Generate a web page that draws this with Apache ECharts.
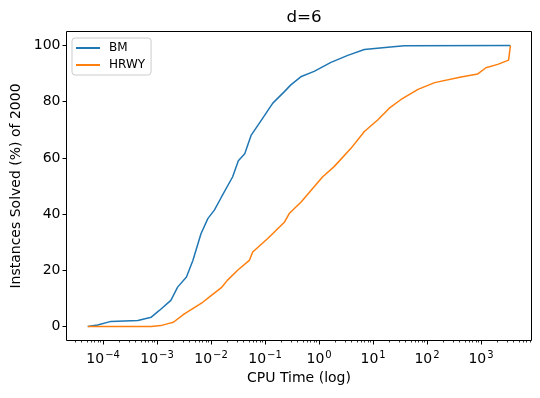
<!DOCTYPE html>
<html>
<head>
<meta charset="utf-8">
<script src="https://cdn.jsdelivr.net/npm/echarts@6/dist/echarts.min.js"></script>
<style>
  html, body { margin: 0; padding: 0; background: #fff; }
  #chart { width: 540px; height: 398px; }
</style>
</head>
<body>
<div id="chart"></div>
<script>
// CPU time (s) and % of 2000 instances solved
const bmTime = [5.2e-5, 7.9e-5, 1.4e-4, 4.4e-4, 7.8e-4, 1.1e-3, 1.8e-3, 2.4e-3, 3.5e-3, 4.6e-3,
  6.5e-3, 8.7e-3, 0.0115, 0.0155, 0.025, 0.032, 0.042, 0.055, 0.0785, 0.139,
  0.228, 0.30, 0.47, 0.81, 1.66, 3.4, 6.9, 21, 38, 3500];
const bmSolved = [0, 0.5, 1.8, 2.1, 3.3, 5.7, 9.3, 14, 17.6, 23.5,
  33, 38.4, 41.4, 46, 53.2, 59, 61.5, 68, 72.4, 79.5,
  83.6, 86, 89, 90.8, 94, 96.5, 98.6, 99.5, 99.9, 100];

const hrwyTime = [5.2e-5, 7.8e-4, 1.17e-3, 1.6e-3, 2.0e-3, 3.2e-3, 7.1e-3, 0.010, 0.0155, 0.020,
  0.031, 0.051, 0.059, 0.112, 0.23, 0.28, 0.47, 0.81, 1.17, 1.9,
  3.9, 6.9, 12.3, 20, 33, 68, 138, 427, 870, 1230,
  2040, 3240, 3500];
const hrwySolved = [0, 0, 0.3, 1, 1.5, 4.5, 8.7, 11, 13.8, 16.4,
  20, 23.5, 26.5, 31.3, 37.2, 40.2, 44.4, 49.7, 53.3, 56.9,
  63.4, 69.4, 73.6, 77.7, 80.8, 84.4, 86.8, 88.8, 89.9, 92.1,
  93.3, 94.8, 100];

const xExponents = [-4, -3, -2, -1, 0, 1, 2, 3];
const yTicks = [0, 20, 40, 60, 80, 100];

const xMin = 2.1e-5;
const xMax = 8.6e3;

const majorTicks = xExponents.map((e) => Math.pow(10, e));
const minorTicks = [];
for (let e = -5; e <= 3; e++) {
  for (let k = 2; k <= 9; k++) {
    const v = k * Math.pow(10, e);
    if (v > xMin && v < xMax) minorTicks.push(v);
  }
}

const zip = (xs, ys) => xs.map((x, i) => [x, ys[i]]);
const font = "DejaVu Sans";

const chart = echarts.init(document.getElementById("chart"));
chart.setOption({
  animation: false,
  textStyle: { fontFamily: font },
  title: {
    text: "d=6",
    left: 299,
    textAlign: "center",
    top: 4,
    textStyle: { fontFamily: font, fontSize: 16.7, fontWeight: "normal", color: "#000" },
  },
  legend: {
    orient: "vertical",
    left: 72,
    top: 38,
    padding: [4, 6, 4, 4],
    itemGap: 5,
    itemWidth: 24,
    itemHeight: 2,
    icon: "rect",
    borderColor: "#cccccc",
    borderWidth: 1,
    borderRadius: 3,
    backgroundColor: "rgba(255,255,255,0.8)",
    textStyle: { fontFamily: font, fontSize: 12, color: "#000", padding: [0, 0, 0, 4] },
    data: ["BM", "HRWY"],
  },
  grid: {
    left: 66.5,
    right: 8.5,
    top: 31.5,
    bottom: 57.5,
    show: true,
    borderColor: "#000",
    borderWidth: 1,
  },
  xAxis: [
    {
      type: "log",
      logBase: 10,
      min: xMin,
      max: xMax,
      name: "CPU Time (log)",
      nameLocation: "middle",
      nameGap: 30,
      nameTextStyle: { fontFamily: font, fontSize: 14, color: "#000" },
      axisLine: { show: false, onZero: false },
      splitLine: { show: false },
      axisTick: {
        show: true,
        inside: false,
        length: 4,
        lineStyle: { color: "#000", width: 1 },
        customValues: majorTicks,
      },
      axisLabel: {
        margin: 6,
        color: "#000",
        customValues: majorTicks,
        formatter: (v) => {
          const e = Math.round(Math.log10(v));
          return "{b|10}{s|" + (e < 0 ? "\u2212" + -e : e) + "}";
        },
        rich: {
          b: { fontFamily: font, fontSize: 14, color: "#000", lineHeight: 20, verticalAlign: "bottom" },
          s: { fontFamily: font, fontSize: 10, color: "#000", lineHeight: 10, verticalAlign: "top", padding: [4, 0, 0, 1] },
        },
      },
    },
    {
      type: "log",
      logBase: 10,
      min: xMin,
      max: xMax,
      position: "bottom",
      axisLine: { show: false, onZero: false },
      splitLine: { show: false },
      axisLabel: { show: false },
      axisTick: {
        show: true,
        inside: false,
        length: 2,
        lineStyle: { color: "#000", width: 0.8 },
        customValues: minorTicks,
      },
    },
  ],
  yAxis: {
    type: "value",
    min: -5,
    max: 105,
    name: "Instances Solved (%) of 2000",
    nameLocation: "middle",
    nameGap: 43,
    nameTextStyle: { fontFamily: font, fontSize: 14, color: "#000" },
    axisLine: { show: false, onZero: false },
    splitLine: { show: false },
    axisTick: {
      show: true,
      inside: false,
      length: 4,
      lineStyle: { color: "#000", width: 1 },
      customValues: yTicks,
    },
    axisLabel: {
      margin: 6,
      fontFamily: font,
      fontSize: 14,
      color: "#000",
      customValues: yTicks,
    },
  },
  series: [
    {
      name: "BM",
      type: "line",
      showSymbol: false,
      data: zip(bmTime, bmSolved),
      color: "#1f77b4",
      lineStyle: { width: 1.5, color: "#1f77b4" },
    },
    {
      name: "HRWY",
      type: "line",
      showSymbol: false,
      data: zip(hrwyTime, hrwySolved),
      color: "#ff7f0e",
      lineStyle: { width: 1.5, color: "#ff7f0e" },
    },
  ],
});
</script>
</body>
</html>
